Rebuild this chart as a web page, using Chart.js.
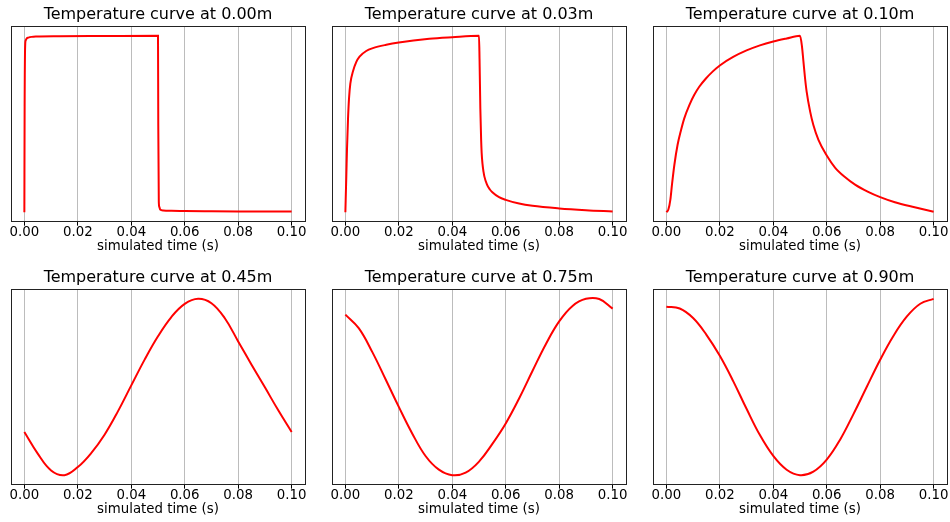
<!DOCTYPE html>
<html><head><meta charset="utf-8">
<script src="https://cdn.jsdelivr.net/npm/chart.js@4"></script>
<style>
html,body{margin:0;padding:0;background:#fff;width:950px;height:522px;overflow:hidden;position:relative}
canvas{position:absolute}
</style></head><body>
<script>
// ---- data (relative temperature) ----
const xTickValues = [0, 0.02, 0.04, 0.06, 0.08, 0.10];
const xAxisLabel = 'simulated time (s)';
const depths = ['0.00', '0.03', '0.10', '0.45', '0.75', '0.90'];

const time000 = [0, 0.0001, 0.0003, 0.0005, 0.0009, 0.0015, 0.0027, 0.0045, 0.013, 0.03, 0.05, 0.0501, 0.0503, 0.0505, 0.0508, 0.052, 0.055, 0.06, 0.07, 0.08, 0.09, 0.1];
const temp000 = [0, 0.6, 0.945, 0.974, 0.986, 0.990, 0.994, 0.996, 0.998, 0.999, 1.0, 0.5, 0.06, 0.03, 0.015, 0.0094, 0.0075, 0.0062, 0.0052, 0.0045, 0.004, 0.0038];

const time003 = [0, 0.00037, 0.00062, 0.001, 0.00137, 0.00186, 0.00286, 0.0041, 0.0053, 0.0078, 0.0103, 0.0153, 0.02, 0.0314, 0.04, 0.05, 0.0502, 0.0505, 0.0508, 0.051, 0.0513, 0.0517, 0.052, 0.053, 0.054, 0.055, 0.0575, 0.06, 0.065, 0.07, 0.08, 0.09, 0.1];
const temp003 = [0, 0.212, 0.363, 0.532, 0.645, 0.729, 0.799, 0.852, 0.882, 0.914, 0.930, 0.949, 0.962, 0.983, 0.992, 1.0, 0.870, 0.588, 0.410, 0.335, 0.275, 0.228, 0.203, 0.156, 0.130, 0.113, 0.085, 0.070, 0.049, 0.036, 0.021, 0.011, 0.004];

const time010 = [0, 0.00075, 0.0015, 0.0021, 0.003, 0.0042, 0.0055, 0.0067, 0.0086, 0.0104, 0.0123, 0.0148, 0.0173, 0.02, 0.025, 0.03, 0.035, 0.04, 0.045, 0.05, 0.0507, 0.0513, 0.0519, 0.0525, 0.0538, 0.055, 0.0569, 0.06, 0.0631, 0.0668, 0.0706, 0.0755, 0.08, 0.0855, 0.0929, 0.1];
const temp010 = [0, 0.015, 0.071, 0.156, 0.269, 0.382, 0.466, 0.532, 0.607, 0.664, 0.711, 0.758, 0.797, 0.832, 0.880, 0.917, 0.946, 0.968, 0.985, 1.0, 0.945, 0.852, 0.758, 0.682, 0.570, 0.494, 0.410, 0.321, 0.253, 0.199, 0.156, 0.115, 0.085, 0.056, 0.028, 0.003];

// shared sampling for the three lower (wave-like) curves
const timeWave = [0, 0.005, 0.01, 0.015, 0.02, 0.025, 0.03, 0.035, 0.04, 0.045, 0.05, 0.055, 0.06, 0.065, 0.07, 0.075, 0.08, 0.085, 0.09, 0.095, 0.1];
const temp045 = [0.245, 0.123, 0.028, 0.001, 0.047, 0.126, 0.230, 0.362, 0.509, 0.655, 0.787, 0.896, 0.970, 0.999, 0.974, 0.889, 0.758, 0.626, 0.498, 0.368, 0.245];
const temp075 = [0.904, 0.828, 0.696, 0.542, 0.385, 0.236, 0.109, 0.032, 0.001, 0.015, 0.077, 0.177, 0.292, 0.432, 0.587, 0.738, 0.866, 0.953, 0.993, 0.992, 0.938];
const temp090 = [0.955, 0.945, 0.891, 0.796, 0.677, 0.534, 0.377, 0.228, 0.110, 0.032, 0.001, 0.021, 0.089, 0.202, 0.347, 0.502, 0.655, 0.791, 0.900, 0.972, 1.000];

const seriesTimes = [time000, time003, time010, timeWave, timeWave, timeWave];
const seriesTemps = [temp000, temp003, temp010, temp045, temp075, temp090];

// ---- layout ----
const FONT = "'DejaVu Sans', sans-serif";
const colLeft = [11, 332, 653];
const rowTop = [27, 290];
const axW = 294, axH = 194;
const padSide = 14, topSpace = 27, bottomSpace = 36;

const framePlugin = {
  id: 'frame',
  afterDatasetsDraw(chart) {
    const {ctx, chartArea: a} = chart;
    ctx.save();
    ctx.strokeStyle = '#222';
    ctx.lineWidth = 1;
    ctx.strokeRect(a.left + 0.5, a.top - 0.5, a.right - a.left, a.bottom - a.top + 1);
    ctx.restore();
  }
};

seriesTimes.forEach((times, i) => {
  const temps = seriesTemps[i];
  const col = i % 3, row = Math.floor(i / 3);
  const cv = document.createElement('canvas');
  const w = axW + 2 * padSide, h = topSpace + axH + bottomSpace;
  cv.width = w; cv.height = h;
  cv.style.left = (colLeft[col] - padSide) + 'px';
  cv.style.top = (rowTop[row] - topSpace) + 'px';
  cv.style.width = w + 'px'; cv.style.height = h + 'px';
  document.body.appendChild(cv);

  const tMin = Math.min(...times), tMax = Math.max(...times);
  const vMin = Math.min(...temps), vMax = Math.max(...temps);
  const xm = 0.05 * (tMax - tMin), ym = 0.05 * (vMax - vMin);
  const smoothWave = row === 1;

  new Chart(cv, {
    type: 'line',
    data: {
      datasets: [{
        data: times.map((t, k) => ({x: t, y: temps[k]})),
        borderColor: '#ff0000',
        borderWidth: 2,
        pointRadius: 0,
        fill: false,
        cubicInterpolationMode: smoothWave ? 'default' : 'monotone',
        tension: smoothWave ? 0.4 : 0
      }]
    },
    options: {
      responsive: false,
      animation: false,
      devicePixelRatio: 1,
      layout: {padding: {left: padSide, right: padSide, top: 0, bottom: 0}},
      plugins: {
        legend: {display: false},
        tooltip: {enabled: false},
        title: {
          display: true,
          text: 'Temperature curve at ' + depths[i] + 'm',
          color: '#000',
          font: {family: FONT, size: 16, weight: 'normal', lineHeight: 1.2},
          padding: {top: 5.4, bottom: 2.4}
        }
      },
      scales: {
        x: {
          type: 'linear',
          min: tMin - xm,
          max: tMax + xm,
          afterBuildTicks: s => { s.ticks = xTickValues.map(v => ({value: v})); },
          afterFit: s => { s.height = bottomSpace; },
          ticks: {
            autoSkip: false, maxRotation: 0, minRotation: 0, padding: -1,
            color: '#000', font: {family: FONT, size: 13.33},
            callback: v => Number(v).toFixed(2)
          },
          grid: {color: '#bcbcbc', lineWidth: 1, drawTicks: true, tickLength: 4.67, tickColor: '#000', tickWidth: 1},
          border: {display: false},
          title: {
            display: true, text: xAxisLabel, color: '#000',
            font: {family: FONT, size: 13.33}, padding: {top: 0, bottom: 2}
          }
        },
        y: {display: false, min: vMin - ym, max: vMax + ym}
      }
    },
    plugins: [framePlugin]
  });
});
</script>
</body></html>
